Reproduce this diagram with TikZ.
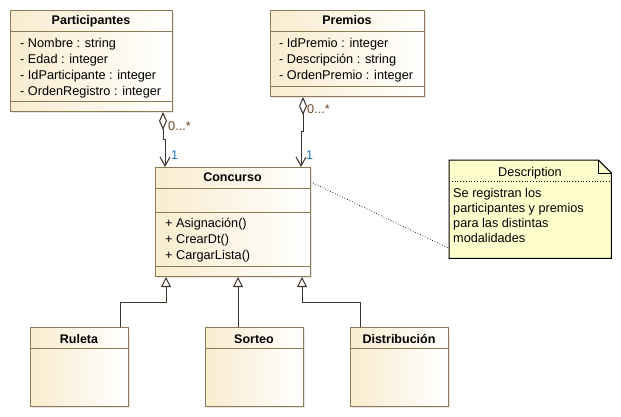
\documentclass[tikz,border=0pt]{standalone}
\usepackage{fontspec}
\setmainfont{Liberation Sans}
\usetikzlibrary{arrows.meta,shadows}
\definecolor{clsfill}{RGB}{249,236,207}
\definecolor{clsline}{RGB}{140,122,85}
\definecolor{notefill}{RGB}{255,255,206}
\definecolor{multc}{RGB}{110,70,35}
\definecolor{onec}{RGB}{30,120,210}
\definecolor{conn}{RGB}{60,50,40}
\begin{document}
\begin{tikzpicture}[x=1pt,y=-1pt,
  font=\fontsize{12.7}{14}\selectfont,
  cls/.style={draw=clsline, line width=1pt, left color=clsfill, right color=white,
    anchor=north west, inner sep=0pt,
    drop shadow={shadow xshift=1.5pt, shadow yshift=-1.5pt, fill=black!18}},
  sepline/.style={draw=clsline, line width=1pt},
  attr/.style={anchor=base west, inner sep=0pt},
  ttl/.style={anchor=base, inner sep=0pt, font=\fontsize{12.5}{14}\selectfont\bfseries},
  conline/.style={draw=conn, line width=1pt},
  agg/.style={conline, {Diamond[open, length=18pt, width=8pt, line width=1pt]}-{Straight Barb[length=9pt, width=10pt, line width=1pt]}},
  gen/.style={conline, -{Triangle[open, length=10pt, width=10pt, line width=1pt]}},
  mult/.style={anchor=west, inner sep=0pt, text=multc},
  one/.style={anchor=west, inner sep=0pt, text=onec}
]
\useasboundingbox[fill=white] (0,0) rectangle (621,417);

% Participantes
\node[cls, minimum width=162pt, minimum height=101pt] (part) at (10,10) {};
\draw[sepline] (part.west |- 0,32) -- (part.east |- 0,32);
\draw[sepline] (part.west |- 0,102) -- (part.east |- 0,102);
\node[ttl] (partT) at (91,25) {Participantes};
\node[attr] (p1) at (20,48) {- Nombre : string};
\node[attr] (p2) at (20,64) {- Edad : integer};
\node[attr] (p3) at (20,80) {- IdParticipante : integer};
\node[attr] (p4) at (20,96) {- OrdenRegistro : integer};

% Premios
\node[cls, minimum width=154pt, minimum height=86pt] (prem) at (270,10) {};
\draw[sepline] (prem.west |- 0,32) -- (prem.east |- 0,32);
\draw[sepline] (prem.west |- 0,87) -- (prem.east |- 0,87);
\node[ttl] (premT) at (347,25) {Premios};
\node[attr] (q1) at (279,48) {- IdPremio : integer};
\node[attr] (q2) at (279,64) {- Descripción : string};
\node[attr] (q3) at (279,80) {- OrdenPremio : integer};

% Concurso
\node[cls, minimum width=155pt, minimum height=109pt] (conc) at (155,167) {};
\draw[sepline] (conc.west |- 0,188) -- (conc.east |- 0,188);
\draw[sepline] (conc.west |- 0,212) -- (conc.east |- 0,212);
\draw[sepline] (conc.west |- 0,266) -- (conc.east |- 0,266);
\node[ttl] (concT) at (232.5,182) {Concurso};
\node[attr] (c1) at (165,227) {+ Asignación()};
\node[attr] (c2) at (165,243) {+ CrearDt()};
\node[attr] (c3) at (165,259) {+ CargarLista()};

% Subclasses
\node[cls, minimum width=98pt, minimum height=79pt] (rul) at (30,327) {};
\draw[sepline] (rul.west |- 0,348) -- (rul.east |- 0,348);
\node[ttl] (rulT) at (79,343) {Ruleta};
\node[cls, minimum width=98pt, minimum height=79pt] (sor) at (205,327) {};
\draw[sepline] (sor.west |- 0,348) -- (sor.east |- 0,348);
\node[ttl] (sorT) at (254,343) {Sorteo};
\node[cls, minimum width=98pt, minimum height=79pt] (dis) at (350,327) {};
\draw[sepline] (dis.west |- 0,348) -- (dis.east |- 0,348);
\node[ttl] (disT) at (399,343) {Distribución};

% Note
\node[minimum width=162pt, minimum height=98pt, anchor=north west, inner sep=0pt] (note) at (449,160) {};
\filldraw[fill=notefill, draw=black, line width=1pt]
  (note.north west) -- ([xshift=-13pt]note.north east) -- ([yshift=-13pt]note.north east)
  -- (note.south east) -- (note.south west) -- cycle;
\draw[black, line width=0.8pt] ([xshift=-13pt]note.north east) -- ([xshift=-13pt,yshift=-13pt]note.north east) -- ([yshift=-13pt]note.north east);
\draw[black, line width=0.8pt, dotted] (note.west |- 0,181) -- (note.east |- 0,181);
\node[anchor=base, inner sep=0pt] (noteT) at (530,176) {Description};
\node[attr] (n1) at (453,197) {Se registran los};
\node[attr] (n2) at (453,212) {participantes y premios};
\node[attr] (n3) at (453,227) {para las distintas};
\node[attr] (n4) at (453,242) {modalidades};

% Aggregations
\draw[agg] (163,0 |- part.south) -- (163,140) -- (165,140) -- (165,0 |- conc.north);
\draw[agg] (303,0 |- prem.south) -- (303,132) -- (301,132) -- (301,0 |- conc.north);
\node[mult] (m1) at (168,126) {0...*};
\node[one] (o1) at (171,155) {1};
\node[mult] (m2) at (307,109) {0...*};
\node[one] (o2) at (306,155) {1};

% Generalizations
\draw[gen] (120,0 |- rul.north) -- (120,302) -- (166,302) -- (166,0 |- conc.south);
\draw[gen] (238,0 |- sor.north) -- (238,0 |- conc.south);
\draw[gen] (360,0 |- dis.north) -- (360,302) -- (302,302) -- (302,0 |- conc.south);

% Note link
\draw[black, line width=0.7pt, dotted] ([xshift=2pt,yshift=-16pt]conc.north east) -- ([yshift=10pt]note.south west);
\end{tikzpicture}
\end{document}
